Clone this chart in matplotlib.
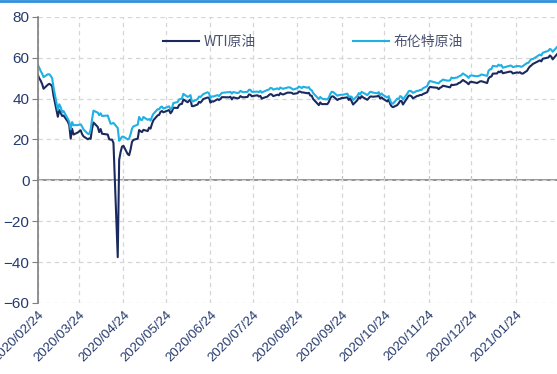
import matplotlib
matplotlib.use('Agg')
import matplotlib.pyplot as plt
import matplotlib.dates as mdates
from matplotlib.lines import Line2D
import pandas as pd

plt.rcParams['font.family'] = ['Noto Sans CJK SC', 'DejaVu Sans']

# daily settlement prices, USD/bbl
dates = [
    '2020-02-24', '2020-02-25', '2020-02-26', '2020-02-27', '2020-02-28',
    '2020-03-02', '2020-03-03', '2020-03-04', '2020-03-05', '2020-03-06',
    '2020-03-09', '2020-03-10', '2020-03-11', '2020-03-12', '2020-03-13',
    '2020-03-16', '2020-03-17', '2020-03-18', '2020-03-19', '2020-03-20',
    '2020-03-23', '2020-03-24', '2020-03-25', '2020-03-26', '2020-03-27',
    '2020-03-30', '2020-03-31', '2020-04-01', '2020-04-02', '2020-04-03',
    '2020-04-06', '2020-04-07', '2020-04-08', '2020-04-09', '2020-04-13',
    '2020-04-14', '2020-04-15', '2020-04-16', '2020-04-17', '2020-04-20',
    '2020-04-21', '2020-04-22', '2020-04-23', '2020-04-24', '2020-04-27',
    '2020-04-28', '2020-04-29', '2020-04-30', '2020-05-01', '2020-05-04',
    '2020-05-05', '2020-05-06', '2020-05-07', '2020-05-08', '2020-05-11',
    '2020-05-12', '2020-05-13', '2020-05-14', '2020-05-15', '2020-05-18',
    '2020-05-19', '2020-05-20', '2020-05-21', '2020-05-22', '2020-05-26',
    '2020-05-27', '2020-05-28', '2020-05-29', '2020-06-01', '2020-06-02',
    '2020-06-03', '2020-06-04', '2020-06-05', '2020-06-08', '2020-06-09',
    '2020-06-10', '2020-06-11', '2020-06-12', '2020-06-15', '2020-06-16',
    '2020-06-17', '2020-06-18', '2020-06-19', '2020-06-22', '2020-06-23',
    '2020-06-24', '2020-06-25', '2020-06-26', '2020-06-29', '2020-06-30',
    '2020-07-01', '2020-07-02', '2020-07-06', '2020-07-07', '2020-07-08',
    '2020-07-09', '2020-07-10', '2020-07-13', '2020-07-14', '2020-07-15',
    '2020-07-16', '2020-07-17', '2020-07-20', '2020-07-21', '2020-07-22',
    '2020-07-23', '2020-07-24', '2020-07-27', '2020-07-28', '2020-07-29',
    '2020-07-30', '2020-07-31', '2020-08-03', '2020-08-04', '2020-08-05',
    '2020-08-06', '2020-08-07', '2020-08-10', '2020-08-11', '2020-08-12',
    '2020-08-13', '2020-08-14', '2020-08-17', '2020-08-18', '2020-08-19',
    '2020-08-20', '2020-08-21', '2020-08-24', '2020-08-25', '2020-08-26',
    '2020-08-27', '2020-08-28', '2020-08-31', '2020-09-01', '2020-09-02',
    '2020-09-03', '2020-09-04', '2020-09-08', '2020-09-09', '2020-09-10',
    '2020-09-11', '2020-09-14', '2020-09-15', '2020-09-16', '2020-09-17',
    '2020-09-18', '2020-09-21', '2020-09-22', '2020-09-23', '2020-09-24',
    '2020-09-25', '2020-09-28', '2020-09-29', '2020-09-30', '2020-10-01',
    '2020-10-02', '2020-10-05', '2020-10-06', '2020-10-07', '2020-10-08',
    '2020-10-09', '2020-10-12', '2020-10-13', '2020-10-14', '2020-10-15',
    '2020-10-16', '2020-10-19', '2020-10-20', '2020-10-21', '2020-10-22',
    '2020-10-23', '2020-10-26', '2020-10-27', '2020-10-28', '2020-10-29',
    '2020-10-30', '2020-11-02', '2020-11-03', '2020-11-04', '2020-11-05',
    '2020-11-06', '2020-11-09', '2020-11-10', '2020-11-11', '2020-11-12',
    '2020-11-13', '2020-11-16', '2020-11-17', '2020-11-18', '2020-11-19',
    '2020-11-20', '2020-11-23', '2020-11-24', '2020-11-25', '2020-11-27',
    '2020-11-30', '2020-12-01', '2020-12-02', '2020-12-03', '2020-12-04',
    '2020-12-07', '2020-12-08', '2020-12-09', '2020-12-10', '2020-12-11',
    '2020-12-14', '2020-12-15', '2020-12-16', '2020-12-17', '2020-12-18',
    '2020-12-21', '2020-12-22', '2020-12-23', '2020-12-24', '2020-12-28',
    '2020-12-29', '2020-12-30', '2020-12-31', '2021-01-04', '2021-01-05',
    '2021-01-06', '2021-01-07', '2021-01-08', '2021-01-11', '2021-01-12',
    '2021-01-13', '2021-01-14', '2021-01-15', '2021-01-19', '2021-01-20',
    '2021-01-21', '2021-01-22', '2021-01-25', '2021-01-26', '2021-01-27',
    '2021-01-28', '2021-01-29', '2021-02-01', '2021-02-02', '2021-02-03',
    '2021-02-04', '2021-02-05', '2021-02-08', '2021-02-09', '2021-02-10',
    '2021-02-11', '2021-02-12', '2021-02-16', '2021-02-17', '2021-02-18',
    '2021-02-19', '2021-02-22',
]

wti = [
    51.4, 49.9, 48.7, 47.1, 44.8,
    46.8, 47.2, 46.8, 46.0, 41.3,
    31.1, 34.4, 33.0, 31.5, 31.7,
    28.7, 27.0, 20.4, 25.2, 22.4,
    23.4, 24.0, 24.5, 22.6, 21.5,
    20.1, 20.5, 20.3, 25.3, 28.3,
    26.1, 23.6, 25.1, 22.8, 22.4,
    20.1, 19.9, 19.9, 18.3, -37.6,
    10.0, 13.8, 16.5, 16.9, 12.8,
    12.3, 15.1, 18.8, 19.8, 20.4,
    24.6, 24.0, 23.6, 24.7, 24.1,
    25.8, 25.3, 27.6, 29.4, 31.8,
    32.0, 33.5, 33.9, 33.3, 34.4,
    32.8, 33.7, 35.5, 35.4, 36.8,
    37.3, 37.4, 39.6, 38.2, 38.9,
    39.6, 36.3, 36.3, 37.1, 38.4,
    38.0, 38.8, 39.8, 40.5, 40.4,
    38.0, 38.7, 38.5, 39.7, 39.3,
    39.8, 40.7, 40.6, 40.6, 40.9,
    39.6, 40.6, 40.1, 40.3, 41.2,
    40.8, 40.6, 40.8, 42.0, 41.9,
    41.1, 41.3, 41.6, 41.0, 41.3,
    39.9, 40.3, 41.0, 41.7, 42.2,
    42.0, 41.2, 41.9, 41.6, 42.7,
    42.2, 42.0, 42.9, 42.9, 42.9,
    42.8, 42.3, 42.6, 43.4, 43.4,
    43.0, 43.0, 42.6, 42.8, 41.5,
    41.4, 39.8, 36.8, 38.1, 37.3,
    37.3, 37.3, 38.3, 40.2, 41.0,
    41.1, 39.3, 39.8, 39.9, 40.3,
    40.3, 40.6, 39.3, 40.2, 38.7,
    37.1, 39.2, 40.7, 40.0, 41.2,
    40.6, 39.4, 40.2, 41.0, 41.0,
    40.9, 41.1, 41.5, 40.0, 40.6,
    39.9, 38.6, 39.6, 37.4, 36.2,
    35.8, 36.8, 37.7, 38.8, 38.8,
    37.1, 40.3, 41.4, 41.5, 41.1,
    40.1, 41.3, 41.4, 41.8, 41.7,
    42.2, 43.1, 44.9, 45.7, 45.5,
    45.3, 44.6, 45.3, 45.6, 46.3,
    45.8, 45.6, 45.5, 46.8, 46.6,
    47.0, 47.6, 47.8, 48.4, 49.1,
    47.7, 47.0, 48.1, 48.2, 47.6,
    48.0, 48.4, 48.5, 47.6, 49.9,
    50.6, 50.8, 52.2, 52.3, 53.2,
    52.9, 53.6, 52.4, 53.0, 53.2,
    53.1, 52.3, 52.8, 52.6, 52.9,
    52.3, 52.2, 53.6, 54.8, 55.7,
    56.2, 56.9, 58.0, 58.4, 58.7,
    58.2, 59.5, 60.1, 61.1, 60.5,
    59.2, 61.7,
]

brent = [
    56.3, 55.0, 53.4, 52.2, 50.5,
    51.9, 51.9, 51.1, 50.0, 45.3,
    34.4, 37.2, 35.8, 33.2, 33.9,
    30.1, 28.7, 24.9, 28.5, 27.0,
    27.0, 27.2, 27.4, 26.3, 24.9,
    22.8, 22.7, 24.7, 29.9, 34.1,
    33.1, 31.9, 32.8, 31.5, 31.7,
    29.6, 27.7, 27.8, 28.1, 25.6,
    19.3, 20.4, 21.3, 21.4, 20.0,
    20.5, 22.5, 25.3, 26.4, 27.2,
    31.0, 29.7, 29.5, 31.0, 29.6,
    30.0, 29.2, 31.1, 32.5, 34.8,
    34.7, 35.8, 36.1, 35.1, 36.2,
    34.7, 35.3, 37.8, 38.3, 39.6,
    39.8, 40.0, 42.3, 40.8, 41.2,
    41.7, 38.6, 38.7, 39.7, 41.0,
    40.7, 41.5, 42.2, 43.1, 42.6,
    40.3, 41.1, 41.0, 41.7, 41.2,
    42.0, 42.8, 43.1, 43.1, 43.3,
    42.4, 43.2, 42.7, 42.9, 43.8,
    43.4, 43.1, 43.3, 44.3, 44.3,
    43.3, 43.3, 43.4, 43.2, 43.8,
    42.9, 43.3, 44.2, 44.4, 45.2,
    45.1, 44.4, 45.0, 44.5, 45.4,
    45.0, 44.8, 45.4, 45.5, 45.4,
    44.9, 44.4, 45.1, 45.9, 45.6,
    45.1, 45.8, 45.3, 45.6, 44.4,
    44.1, 42.7, 39.8, 40.8, 40.1,
    39.8, 39.6, 40.5, 42.2, 43.3,
    43.2, 41.4, 41.7, 41.8, 41.9,
    41.9, 42.4, 41.0, 41.0, 40.9,
    39.3, 41.3, 42.7, 42.0, 43.3,
    42.9, 41.7, 42.5, 43.3, 43.2,
    42.9, 42.6, 43.2, 41.7, 42.5,
    41.8, 40.5, 41.2, 39.1, 37.7,
    37.5, 40.0, 39.7, 41.2, 40.9,
    39.5, 42.4, 43.6, 43.8, 43.5,
    42.8, 43.8, 43.8, 44.3, 44.2,
    45.0, 46.1, 47.9, 48.6, 48.2,
    47.6, 47.4, 48.3, 48.7, 49.3,
    48.8, 48.8, 48.9, 50.3, 50.0,
    50.3, 50.8, 51.1, 51.5, 52.3,
    50.9, 50.1, 51.2, 51.3, 50.9,
    51.1, 51.3, 51.8, 51.1, 53.6,
    54.3, 54.4, 56.0, 55.7, 56.6,
    56.1, 56.4, 55.1, 55.9, 56.1,
    56.1, 55.4, 55.9, 55.9, 55.8,
    55.5, 55.9, 57.4, 57.5, 58.5,
    59.3, 59.3, 60.6, 61.1, 61.5,
    61.1, 62.4, 63.4, 64.3, 63.9,
    62.9, 65.2,
]

tick_dates = ['2020-02-24', '2020-03-24', '2020-04-24', '2020-05-24',
              '2020-06-24', '2020-07-24', '2020-08-24', '2020-09-24',
              '2020-10-24', '2020-11-24', '2020-12-24', '2021-01-24']
y_ticks = [-60, -40, -20, 0, 20, 40, 60, 80]

df = pd.DataFrame({'wti': wti, 'brent': brent}, index=pd.to_datetime(dates))
ticks = pd.to_datetime(tick_dates)

navy = '#1b2a5e'
cyan = '#1fb0e4'
label_col = '#253a6e'
axis_grey = '#7f7f7f'

fig = plt.figure(figsize=(5.57, 3.74), dpi=100)
ax = fig.add_axes([0.068, 0.19, 0.932, 0.765])

ax.plot(df.index, df['wti'], color=navy, lw=1.5, label='WTI原油')
ax.plot(df.index, df['brent'], color=cyan, lw=1.5, label='布伦特原油')

ax.set_xlim(pd.Timestamp('2020-02-24'), pd.Timestamp('2021-02-22'))
ax.set_ylim(-60, 80)
ax.set_yticks(y_ticks)
ax.set_xticks(ticks)
ax.xaxis.set_major_formatter(mdates.DateFormatter('%Y/%m/%d'))

ax.grid(True, color='#d6d6d6', ls=(0, (3.5, 3)), lw=0.9)
for s in ['top', 'right', 'bottom']:
    ax.spines[s].set_visible(False)
ax.spines['left'].set_color(axis_grey)
ax.spines['left'].set_linewidth(1.2)

ax.tick_params(axis='y', length=4, color=axis_grey, labelsize=11,
               labelcolor=label_col, pad=2)
ax.tick_params(axis='x', length=0, labelsize=9.5, labelcolor=label_col, pad=4)
for lab in ax.get_xticklabels() + ax.get_yticklabels():
    lab.set_family(['Liberation Sans', 'DejaVu Sans'])
for lab in ax.get_xticklabels():
    lab.set_rotation(45)
    lab.set_ha('right')
    lab.set_rotation_mode('anchor')

# zero line with small upward ticks
zero_frac = (0 - (-60)) / (80 - (-60))
sec = ax.secondary_xaxis(zero_frac)
sec.set_xticks(ticks)
sec.tick_params(axis='x', direction='in', length=3, color=axis_grey,
                labelbottom=False, labeltop=False)
for s in ['bottom', 'top']:
    sec.spines[s].set_color(axis_grey)
    sec.spines[s].set_linewidth(1.2)

leg = ax.legend(loc='upper center', bbox_to_anchor=(0.53, 0.98), ncol=2,
                frameon=False, fontsize=10, handlelength=2.6,
                columnspacing=7, handletextpad=0.3)
for t in leg.get_texts():
    t.set_color('#4a5270')

# blue rule across the top edge
fig.add_artist(Line2D([0, 1], [0.997, 0.997], transform=fig.transFigure,
                      color='#2f8fdc', lw=2))

fig.savefig('out.png', dpi=100)
